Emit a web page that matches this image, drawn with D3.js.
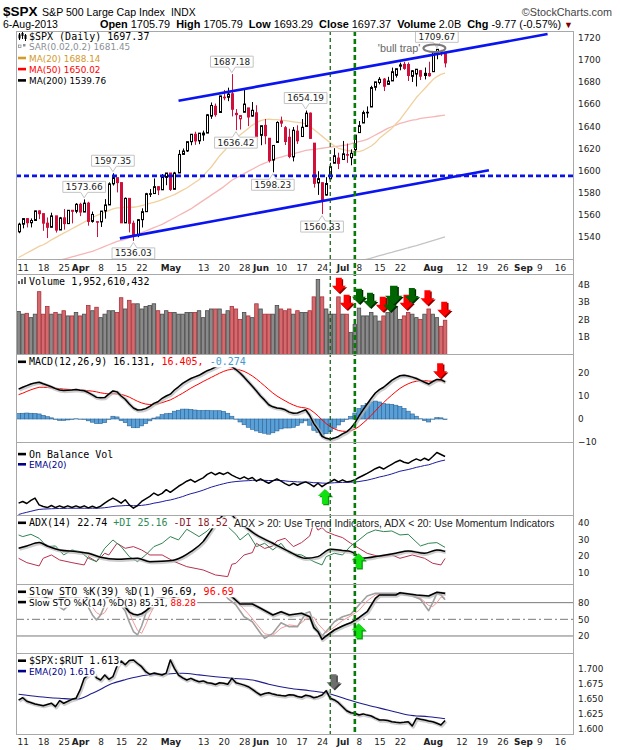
<!DOCTYPE html>
<html><head><meta charset="utf-8">
<script src="https://cdn.jsdelivr.net/npm/d3@7/dist/d3.min.js"></script>
<style>html,body{margin:0;padding:0;background:#fff;}</style>
</head>
<body>
<svg id="chart" width="620" height="750" xmlns="http://www.w3.org/2000/svg"></svg>
<script>
// ================= DATA =================
// trading-day index 0 = 8-Mar-2013 ... 104 = 6-Aug-2013
const prevClose = 1544.26;
const openP = [1544.26,1551.15,1556.22,1552.48,1554.52,1563.21,1560.70,1552.10,1548.34,1558.71,
1545.90,1556.89,1551.69,1563.75,1562.86,1569.18,1562.17,1570.25,1553.69,1553.47,
1553.26,1563.11,1568.61,1587.73,1593.30,1588.84,1552.36,1574.57,1552.03,1541.61,
1555.25,1562.50,1578.78,1578.93,1585.16,1582.34,1593.58,1597.55,1582.77,1597.60,
1614.40,1617.55,1625.95,1632.69,1626.69,1632.10,1633.75,1649.13,1658.07,1652.45,
1665.71,1666.20,1669.39,1651.62,1646.67,1652.63,1656.57,1649.14,1652.13,1631.71,
1640.73,1629.05,1609.29,1625.27,1644.67,1638.64,1629.94,1612.15,1635.52,1630.64,
1639.77,1651.83,1624.62,1588.62,1588.77,1577.52,1592.27,1606.44,1611.12,1609.78,
1614.29,1611.48,1618.65,1634.20,1642.89,1652.50,1657.41,1675.26,1679.59,1682.70,
1677.91,1681.05,1686.15,1694.41,1696.06,1695.95,1685.21,1687.31,1690.32,1687.92,
1687.76,1689.42,1706.10,1708.01,1705.79];
const highP = [1552.48,1556.27,1556.77,1556.39,1563.32,1563.62,1560.70,1557.25,1561.56,1558.71,
1557.74,1564.91,1563.95,1564.07,1570.28,1570.57,1573.66,1571.47,1562.60,1553.47,
1563.07,1573.89,1589.07,1597.35,1593.30,1588.84,1575.35,1574.57,1554.38,1555.89,
1565.55,1579.58,1583.00,1592.64,1585.78,1596.65,1597.57,1597.55,1598.60,1618.46,
1619.77,1626.03,1632.78,1635.01,1633.70,1636.00,1651.10,1661.49,1660.51,1667.47,
1672.84,1674.93,1687.18,1655.50,1649.78,1674.21,1656.57,1661.91,1658.99,1640.42,
1646.53,1629.31,1622.56,1644.40,1648.69,1640.13,1637.71,1639.25,1640.80,1646.50,
1654.19,1652.45,1624.62,1599.19,1588.77,1593.79,1606.83,1620.07,1615.94,1626.61,
1624.26,1618.97,1632.07,1644.68,1654.18,1657.92,1676.63,1680.19,1684.51,1683.73,
1684.75,1693.12,1692.09,1697.61,1698.38,1697.79,1690.94,1691.85,1690.92,1693.19,
1698.43,1707.85,1709.67,1709.24,1705.79];
const lowP = [1542.94,1547.36,1548.24,1548.25,1554.52,1555.74,1545.13,1538.57,1548.34,1543.55,
1545.90,1546.22,1551.69,1551.90,1561.08,1558.47,1562.17,1549.80,1552.53,1539.50,
1548.63,1556.21,1568.61,1586.17,1579.97,1552.28,1552.36,1543.69,1536.03,1539.40,
1548.19,1562.50,1575.80,1578.93,1577.56,1582.34,1586.50,1581.28,1582.77,1597.60,
1614.21,1616.64,1622.70,1623.09,1623.71,1626.74,1633.75,1646.68,1648.60,1652.45,
1663.52,1662.67,1648.86,1636.42,1637.00,1652.63,1640.05,1648.61,1630.74,1622.72,
1623.62,1607.09,1598.23,1625.27,1639.26,1622.92,1610.92,1608.07,1623.96,1630.34,
1639.77,1628.91,1584.32,1577.70,1560.33,1577.09,1592.27,1606.44,1601.06,1609.78,
1606.77,1604.57,1614.71,1634.20,1642.89,1647.66,1657.41,1672.33,1677.89,1671.84,
1677.91,1681.05,1684.08,1690.67,1691.13,1680.97,1680.07,1676.03,1681.86,1682.42,
1684.94,1689.42,1700.68,1703.55,1693.29];
const closeP = [1551.18,1556.22,1552.48,1554.52,1563.23,1560.70,1552.10,1548.34,1558.71,1545.80,
1556.89,1551.69,1563.77,1562.85,1569.19,1562.17,1570.25,1553.69,1559.98,1553.28,
1563.07,1568.61,1587.73,1593.37,1588.85,1552.36,1574.57,1552.01,1541.61,1555.25,
1562.50,1578.78,1578.79,1585.16,1582.24,1593.61,1597.57,1582.70,1597.59,1614.42,
1617.50,1625.96,1632.69,1626.67,1633.70,1633.77,1650.34,1658.78,1650.47,1667.47,
1666.29,1669.16,1655.35,1650.51,1649.60,1660.06,1648.36,1654.41,1630.74,1640.42,
1631.38,1608.90,1622.56,1643.38,1642.81,1626.13,1612.52,1636.36,1626.73,1639.04,
1651.81,1628.93,1588.19,1592.43,1573.09,1588.03,1603.26,1613.20,1606.28,1614.96,
1614.08,1615.41,1631.89,1640.46,1652.32,1652.62,1675.02,1680.19,1682.50,1676.26,
1680.91,1689.37,1692.09,1695.53,1692.39,1685.94,1690.25,1691.65,1685.33,1685.96,
1685.73,1706.87,1709.67,1707.14,1697.37];
const volumeB = [2.45,2.30,2.35,2.10,2.30,3.60,2.30,2.75,2.30,2.40,
2.30,2.50,2.20,2.20,2.40,2.20,2.30,2.80,2.50,2.70,
2.10,2.30,2.50,2.50,2.40,3.25,2.60,3.10,2.90,2.90,
2.60,2.75,2.80,2.90,2.50,2.30,2.50,2.40,2.40,2.30,
2.30,2.40,2.40,2.40,2.50,2.10,2.50,2.60,2.60,2.60,
2.30,2.50,2.75,2.60,2.00,2.40,2.20,2.10,2.90,2.60,
2.30,2.30,2.30,2.80,2.60,2.50,2.60,2.30,2.50,2.40,
2.40,2.50,3.30,4.30,3.30,2.60,2.30,2.30,3.30,2.30,
2.30,1.25,1.70,2.65,2.20,2.20,2.40,2.20,1.90,2.20,
2.40,2.60,2.70,2.00,2.20,2.40,2.30,2.10,2.00,2.30,
2.60,2.30,2.10,1.60,1.95];
const ma20 = [1521,1523,1525,1527,1529,1531,1532.5,1534.5,1537,1539,
1541,1543,1545,1547,1549,1551,1553,1555,1557,1559,
1560.5,1562,1563.5,1565,1566,1566,1566.5,1566.5,1566.5,1567,
1568,1569,1570,1571,1572,1573.5,1575,1576.5,1578,1580,
1582,1584,1586.5,1589,1591.5,1595,1599,1603,1608,1613,
1617,1621,1625,1629,1632,1635,1638,1641,1643,1645,
1646,1646.5,1646,1646,1645.5,1645,1644.5,1644,1643.5,1643,
1642,1640,1637,1634,1631,1628,1625,1622,1620,1619,
1618,1617.5,1617,1617,1618,1620,1622,1625,1629,1632,
1635,1638,1642,1646,1651,1656,1661,1666,1670,1674,
1678,1682,1685,1687,1688.14];
const ma50 = [1506,1507.5,1509,1510.5,1512,1513.5,1514.5,1515.5,1516.5,1517.5,
1518.5,1519.5,1520.5,1521.5,1522.5,1523.5,1524.5,1525.5,1526.5,1528,
1529.5,1531,1532.5,1534,1535.5,1536.5,1537.5,1539,1540.5,1542,
1543.5,1545,1546.5,1548,1549.5,1551,1553,1555,1557,1559,
1561,1563,1565,1567.5,1570,1572.5,1575,1577.5,1580,1582.5,
1585,1588,1591,1593,1595,1597,1599,1601,1603,1605,
1606.5,1608,1609.5,1611,1612,1613,1614,1615,1616,1617,
1618,1618.5,1619,1619.5,1620,1620.5,1621,1621.5,1622,1622.5,
1623,1624,1625,1626,1627,1628,1630,1632,1634,1636,
1638,1639.5,1641,1642.5,1643.5,1644.5,1645.5,1646,1647,1647.5,
1648,1648.5,1649,1649.5,1650.02];
const ma200Start = 84;
const ma200 = [1518.6,1519.5,1520.5,1521.5,1522.6,1523.6,1524.6,1525.6,1526.7,1527.7,1528.7,
1529.8,1530.8,1531.8,1532.9,1534.0,1535.2,1536.3,1537.4,1538.6,1539.76];
const macdLine = [13.0,13.8,14.5,15.2,15.7,16.0,15.3,14.7,14.0,13.2,
12.6,12.4,12.5,12.6,12.8,12.5,12.3,11.5,10.5,9.4,
9.2,9.3,10.8,12.2,11.8,10.0,8.6,6.5,4.8,3.9,
4.0,4.5,5.5,6.8,7.5,9.0,10.0,10.8,12.6,14.0,
15.5,16.6,17.6,18.3,19.0,20.0,21.0,21.7,22.6,23.5,
24.0,23.8,22.8,21.5,20.0,18.2,16.2,14.2,12.2,10.0,
8.2,6.2,5.3,4.8,4.6,4.0,3.0,2.5,2.6,3.3,
4.0,1.5,-2.0,-4.5,-7.5,-8.4,-8.8,-8.3,-7.6,-6.5,
-5.6,-4.0,-1.8,1.3,4.0,6.5,9.0,11.3,12.8,13.8,
15.3,16.8,17.9,18.8,19.0,18.7,18.2,17.6,16.8,16.0,
15.2,16.3,17.2,17.1,16.131];
const macdSignal = [10.6,11.2,12.0,12.7,13.3,13.8,13.8,13.7,13.5,13.4,
13.2,13.0,12.9,12.8,12.7,12.6,12.5,12.3,12.1,11.8,
11.4,11.1,10.9,11.0,10.9,10.7,10.2,9.5,8.6,7.7,
7.0,6.5,6.3,6.4,6.6,7.1,7.7,8.3,9.2,10.2,
11.2,12.3,13.4,14.4,15.3,16.3,17.2,18.1,19.0,19.9,
20.7,21.3,21.6,21.6,21.3,20.7,19.8,18.7,17.4,15.9,
14.4,12.8,11.3,10.0,8.9,7.9,6.9,6.1,5.4,5.0,
4.8,4.2,2.9,1.4,-0.4,-2.0,-3.3,-4.3,-5.0,-5.3,
-5.4,-5.1,-4.4,-3.3,-1.8,-0.2,1.6,3.5,5.4,7.1,
8.8,10.4,11.9,13.3,14.4,15.3,16.0,16.4,16.7,16.7,
16.5,16.4,16.6,16.6,16.405];
const macdHist = [2.4,2.5,2.6,2.5,2.4,2.2,1.6,1.0,0.5,-0.2,
-0.6,-0.6,-0.4,-0.2,0.1,-0.1,-0.2,-0.8,-1.4,-2.0,
-2.0,-1.6,-0.2,1.2,0.9,-0.7,-1.6,-3.0,-3.8,-3.8,
-3.0,-2.0,-0.8,0.4,0.9,1.9,2.3,2.5,3.4,3.8,
4.3,4.3,4.2,3.9,3.7,3.7,3.8,3.6,3.6,3.6,
3.3,2.5,1.2,-0.1,-1.3,-2.5,-3.6,-4.5,-5.2,-5.9,
-6.2,-6.6,-6.0,-5.2,-4.3,-3.9,-3.9,-3.6,-2.8,-1.7,
-0.8,-2.7,-4.9,-5.9,-7.1,-6.4,-5.5,-4.0,-2.6,-1.2,
-0.2,1.1,2.6,4.6,5.8,6.7,7.4,7.8,7.4,6.7,
6.5,6.4,6.0,5.5,4.6,3.4,2.2,1.2,0.1,-0.7,
-1.3,-0.1,0.6,0.5,-0.274];
const obv = [7.0,8.0,6.8,8.6,10.0,6.0,5.0,4.4,5.6,4.4,
5.4,4.4,5.4,4.4,5.4,4.4,5.4,4.2,5.2,4.2,
5.2,7.0,8.6,10.0,8.6,7.0,9.0,6.0,4.0,5.6,
8.0,9.6,11.0,13.0,11.6,12.8,15.0,13.4,15.2,17.0,
18.4,20.0,21.0,19.4,20.8,22.0,24.0,25.2,23.8,25.0,
24.0,25.2,23.6,22.4,21.4,22.6,21.2,22.2,20.0,21.4,
20.0,18.8,20.2,21.4,20.0,18.6,17.4,18.8,17.6,18.8,
19.6,18.4,16.8,18.8,16.8,18.4,19.6,21.0,19.6,20.8,
19.6,20.0,20.8,22.2,23.4,24.6,26.0,27.4,28.4,27.2,
28.6,30.0,31.4,32.4,31.2,30.6,32.0,33.2,32.2,33.6,
32.4,34.6,37.0,35.8,34.6];
const obvEma = [0.3,1.0,1.6,2.2,2.8,3.3,3.5,3.6,3.7,3.8,
3.9,3.9,4.0,4.0,4.0,4.0,4.0,4.0,4.0,4.0,
4.1,4.3,4.6,5.0,5.3,5.4,5.6,5.6,5.5,5.5,
5.7,6.0,6.4,7.0,7.4,7.9,8.5,8.9,9.5,10.2,
10.9,11.8,12.6,13.2,13.9,14.7,15.6,16.5,17.2,17.9,
18.5,19.1,19.5,19.8,20.0,20.2,20.3,20.5,20.5,20.6,
20.5,20.4,20.4,20.5,20.4,20.2,19.9,19.8,19.6,19.5,
19.5,19.4,19.1,19.1,18.9,18.8,18.9,19.1,19.2,19.3,
19.3,19.4,19.5,19.8,20.2,20.6,21.2,21.8,22.5,23.0,
23.6,24.3,25.1,25.9,26.4,26.9,27.5,28.2,28.7,29.3,
29.7,30.5,31.3,32.0,32.5];
// [day index, value] readings
const adx = [[0,24.6],[2,26.0],[5,28.0],[7,26.0],[10,23.6],[14,22.6],[17,21.6],[20,19.2],[24,18.0],[29,18.6],[32,16.6],[35,16.8],[38,17.6],[40,19.5],[42,22.6],[45,28.6],[47,35.6],[49,42.2],[51,46.5],[53,42.0],[55,38.0],[58,32.6],[62,27.6],[66,22.6],[70,18.6],[73,19.6],[76,24.0],[79,23.2],[81,22.6],[84,18.6],[88,20.0],[92,21.6],[95,23.0],[99,21.6],[102,23.6],[104,22.74]];
const plusDI = [[0,32.6],[1,31.6],[3,33.0],[5,30.6],[7,25.6],[9,26.0],[11,20.6],[13,23.6],[15,22.6],[17,18.6],[19,16.6],[21,24.6],[23,29.6],[25,25.6],[27,19.6],[29,16.6],[31,20.6],[33,25.6],[35,27.6],[37,31.6],[39,29.6],[41,36.0],[42,34.6],[44,31.6],[46,35.0],[48,40.0],[49,38.0],[51,37.6],[53,33.0],[54,29.6],[56,33.6],[58,25.6],[60,27.6],[62,23.6],[64,27.6],[66,21.6],[69,20.6],[71,18.0],[72,16.6],[74,14.6],[75,19.6],[77,21.6],[79,20.6],[81,26.0],[83,29.6],[85,33.6],[87,35.6],[89,34.6],[91,35.0],[93,32.6],[95,33.0],[98,26.0],[100,27.6],[102,28.0],[104,25.16]];
const minusDI = [[0,18.6],[2,16.0],[5,14.0],[6,18.6],[8,20.6],[10,17.6],[13,16.0],[16,14.6],[17,19.6],[19,16.6],[21,21.6],[22,20.6],[24,27.6],[26,24.6],[28,25.6],[30,23.6],[32,20.6],[35,20.6],[38,16.6],[41,13.6],[45,11.6],[48,8.6],[51,7.6],[52,15.0],[53,15.6],[55,20.6],[57,22.0],[58,27.6],[60,24.5],[62,26.0],[63,29.0],[65,30.6],[67,25.6],[69,28.0],[71,32.0],[72,40.0],[73,35.5],[74,37.0],[75,34.6],[77,32.6],[79,31.0],[81,27.6],[83,24.6],[85,21.6],[88,19.6],[91,20.6],[93,18.6],[96,20.6],[99,18.6],[101,15.6],[103,14.6],[104,18.52]];
const sto39 = [[0,95],[3,97],[5,96],[7,88],[9,84],[10,88],[12,92],[14,96],[16,95],[17,85],[19,80],[21,86],[23,97],[24,95],[25,80],[26,72],[27,63],[28,59],[29,57.8],[30,60],[31,65],[32,71],[33,78],[35,88],[37,85],[39,95],[42,98],[45,98],[49,99],[51,96],[52,90.7],[54,77.6],[57,77.6],[59,69.8],[62,57.8],[64,63.7],[66,57.8],[69,60.8],[71,54.7],[72,35],[73,27.7],[74,14.0],[75,20.0],[77,30.8],[79,38],[80,41.0],[81,43.9],[83,52.9],[85,63.7],[87,87.8],[88,93.8],[92,93.8],[93,97.9],[97,93.8],[100,92.0],[102,98.6],[104,96.69]];
const sto14K = [[0,95],[3,90],[6,80],[8,85],[10,72],[11,67],[12,74],[14,90],[16,92],[17,72],[18,58],[19,48.8],[20,58],[21,75],[22,90],[23,96],[24,92],[25,75],[26,65],[27,45],[28,28],[29,21.8],[30,38],[31,60],[32,75],[34,90],[37,85],[39,95],[42,97],[46,96],[49,98],[50,96],[51,87.8],[53,75.8],[55,54.7],[57,45.7],[59,24.8],[60,15.8],[62,24.8],[64,43.9],[66,36.7],[68,36.7],[70,60.8],[71,63.7],[72,42.8],[74,20],[76,36.7],[77,45.7],[79,54.7],[81,59],[83,75.8],[85,92],[87,96.8],[92,96.8],[96,92],[98,86],[100,65.5],[101,80],[102,96.8],[103,94],[104,85.31]];
const sto14D = [[0,93],[4,90],[7,84],[10,78],[11,74],[12,72],[13,80],[15,88],[17,82],[18,72],[19,62],[20,57.8],[21,62],[22,75],[23,87],[25,88],[26,78],[27,62],[28,45],[29,30],[30,24.8],[31,40],[32,58],[33,72],[35,85],[38,90],[41,95],[46,97],[50,96],[52,90],[54,76],[56,60],[58,42],[60,24],[62,21],[64,34],[66,40],[68,38],[70,50],[72,54],[73,42],[75,26],[77,36],[79,48],[81,56],[83,66],[85,83],[87,94],[92,96],[96,93],[98,88],[100,75],[101,73],[102,80],[103,90],[104,88.28]];
const spxRut = [[0,1.647],[1,1.651],[2,1.645],[4,1.6405],[6,1.6377],[8,1.6417],[9,1.636],[10,1.646],[11,1.6417],[13,1.6483],[14,1.650],[15,1.664],[16,1.6833],[17,1.689],[18,1.6943],[19,1.684],[20,1.6805],[21,1.6888],[22,1.6817],[23,1.686],[24,1.7038],[25,1.712],[26,1.706],[27,1.713],[28,1.7138],[29,1.708],[30,1.7027],[31,1.6943],[32,1.690],[33,1.692],[34,1.6905],[35,1.6888],[36,1.692],[37,1.7138],[38,1.700],[39,1.6888],[40,1.684],[41,1.6805],[42,1.6833],[43,1.680],[44,1.6777],[45,1.679],[46,1.676],[47,1.675],[48,1.673],[49,1.676],[50,1.675],[51,1.6735],[52,1.6833],[53,1.676],[54,1.674],[55,1.672],[56,1.6693],[57,1.665],[58,1.660],[59,1.6555],[60,1.658],[61,1.6593],[62,1.657],[63,1.6555],[64,1.6545],[65,1.6538],[66,1.656],[67,1.6555],[68,1.653],[69,1.6517],[70,1.655],[71,1.6538],[72,1.651],[73,1.6527],[74,1.6555],[75,1.6627],[76,1.650],[77,1.6472],[78,1.6427],[79,1.636],[80,1.6293],[81,1.626],[82,1.625],[83,1.6222],[84,1.624],[85,1.622],[86,1.6205],[87,1.617],[88,1.6138],[89,1.6138],[90,1.613],[91,1.611],[92,1.610],[93,1.6093],[94,1.610],[95,1.611],[96,1.6038],[97,1.6167],[98,1.615],[99,1.6138],[100,1.612],[101,1.611],[102,1.6083],[103,1.6055],[104,1.613]];
const spxRutEma = [[0,1.6567],[5,1.6527],[10,1.650],[14,1.6483],[18,1.6583],[23,1.675],[26,1.681],[31,1.6885],[36,1.6905],[40,1.6917],[44,1.689],[48,1.686],[52,1.6835],[57,1.6805],[61,1.6735],[66,1.6667],[71,1.6627],[76,1.6572],[80,1.6483],[85,1.6388],[90,1.6305],[95,1.6222],[100,1.6193],[104,1.616]];

// axis ticks
const xTickIdx = [1,6,11,15,20,25,30,37,45,50,55,59,64,69,74,79,83,88,93,101,108,113,118,123,127,132];
const xTickLbl = ['11','18','25','Apr','8','15','22','May','13','20','28','Jun','10','17','24','Jul','8','15','22','Aug','12','19','26','Sep','9','16'];
const priceTicks = [1540,1560,1580,1600,1620,1640,1660,1680,1700,1720];
const volTicks = [1,2,3,4];
const macdTicks = [-10,0,10,20];
const adxTicks = [10,20,30,40];
const stoTicks = [20,50,80];
const rutTicks = [1.600,1.625,1.650,1.675,1.700];

// annotations (data coordinates)
const annIdx = [16,23,28,52,53,62,70,74,102];
const annVal = [1573.66,1597.35,1536.03,1687.18,1636.42,1598.23,1654.19,1560.33,1709.67];
const annSide = ['above','above','below','above','below','below','above','below','above'];
const channelUpper = [[39,1663.0],[129,1723.5]];
const channelLower = [[24.7,1538.3],[114.7,1600.0]];
const supportLevel = 1595;
const markerIdx = [76,82];
const bullTrap = [101.4,1710.7];
const volArrowIdx = [78.1,80.0,83.0,85.7,88.8,90.6,91.5,94.6,95.9,99.7,103.8];
const volArrowTip = [3.53,2.56,2.90,2.67,2.44,2.44,2.86,2.56,2.95,2.82,2.15];
const volArrowKind = ['sell','sell','buy','buy','sell','buy','buy2','sell','buy','sell','sell'];
const macdArrow = [102.8,17.7];
const obvArrow = [74.7,15.4];
const adxArrow = [82.9,21.6];
const stoArrow = [82.9,42.8];
const rutArrow = [76.8,1.665];

// ================= RENDER =================
const MONO = '"DejaVu Sans Mono", monospace';
const SANS = '"DejaVu Sans", Verdana, sans-serif';
const ARIAL = '"Liberation Sans", Arial, sans-serif';
const RED = '#d0103a';
const svg = d3.select('#chart');
const L = 16, R = 573;
const x = d3.scaleLinear().domain([-0.634, 135.2]).range([L, R]);
const PANELS = {main:[31,259], vol:[274,354], macd:[354,442], obv:[442,515], adx:[515,584], sto:[584,653], rut:[653,734]};
const yMain = d3.scaleLinear().domain([1519.6,1726.3]).range([259,31]);
const yVol  = d3.scaleLinear().domain([0,4.62]).range([354,274]);
const yMacd = d3.scaleLinear().domain([-10,28.26]).range([442,354]);
const yObv  = d3.scaleLinear().domain([0,43.2]).range([515,442]);
const yAdx  = d3.scaleLinear().domain([3.18,44.57]).range([584,515]);
const ySto  = d3.scaleLinear().domain([-10.1,113.6]).range([652.7,584]);
const yRut  = d3.scaleLinear().domain([1.5905,1.7255]).range([734,653]);

const defs = svg.append('defs');
Object.entries(PANELS).forEach(([k,[t,b]]) => {
  defs.append('clipPath').attr('id','clip-'+k).append('rect')
    .attr('x',L).attr('y',t).attr('width',R-L).attr('height',b-t);
});
const layer = k => svg.append('g').attr('clip-path',`url(#clip-${k})`);
const lineIdx = (y, start) => d3.line().x((d,i)=>x(i+(start||0))).y(d=>y(d));
const linePairs = (y, curve) => d3.line().x(d=>x(d[0])).y(d=>y(d[1])).curve(curve||d3.curveLinear);
function path(g, datum, gen, stroke, w, extra) {
  const p = g.append('path').datum(datum).attr('d',gen).attr('fill','none')
    .attr('stroke',stroke).attr('stroke-width',w).attr('stroke-linejoin','round');
  if (extra) extra(p);
  return p;
}
function shadowed(g, datum, gen, w) {
  path(g, datum, gen, '#b8b8b8', w+2.2, p=>p.attr('transform','translate(0.8,0.8)').attr('opacity',0.7));
  path(g, datum, gen, '#000', w);
}

// ---------- header ----------
svg.append('text').attr('x',3).attr('y',16).attr('font-family',ARIAL).attr('font-weight','bold').attr('font-size',13.5).text('$SPX');
svg.append('text').attr('x',42).attr('y',16).attr('font-family',ARIAL).attr('font-size',10.6).text('S&P 500 Large Cap Index');
svg.append('text').attr('x',171).attr('y',16).attr('font-family',ARIAL).attr('font-size',10.3).text('INDX');
svg.append('text').attr('x',612).attr('y',15.5).attr('text-anchor','end').attr('font-family',ARIAL).attr('font-size',10.8).attr('fill','#444').text('\u00A9StockCharts.com');
svg.append('text').attr('x',3).attr('y',27.5).attr('font-family',ARIAL).attr('font-size',10.5).text('6-Aug-2013');
{
  const t = svg.append('text').attr('x',R).attr('y',27.5).attr('text-anchor','end').attr('font-family',ARIAL).attr('font-size',10.9).style('white-space','pre');
  const parts = [['Open',1],[' 1705.79  ',0],['High',1],[' 1705.79  ',0],['Low',1],[' 1693.29  ',0],['Close',1],[' 1697.37  ',0],['Volume',1],[' 2.0B  ',0],['Chg',1],[' -9.77 (-0.57%) ',0]];
  parts.forEach(p => t.append('tspan').attr('font-weight',p[1]?'bold':'normal').text(p[0]));
  t.append('tspan').attr('fill','#800000').attr('font-size',9).text('\u25BC');
}

// ---------- main price panel ----------
const gMain = layer('main');
path(gMain, ma200, lineIdx(yMain, ma200Start), '#c4c4c4', 1.3);
path(gMain, ma50, lineIdx(yMain), '#f6b6b6', 1.3);
path(gMain, ma20, lineIdx(yMain), '#f1d09e', 1.3);
closeP.forEach((c,i) => {
  const o = openP[i], pc = i ? closeP[i-1] : prevClose;
  const col = c >= pc ? '#000' : RED;
  const xc = Math.round(x(i));
  gMain.append('line').attr('x1',xc+0.5).attr('x2',xc+0.5).attr('y1',yMain(highP[i])).attr('y2',yMain(lowP[i])).attr('stroke',col).attr('stroke-width',1);
  const yt = yMain(Math.max(o,c)), yb = yMain(Math.min(o,c));
  gMain.append('rect').attr('x',xc-0.5).attr('y',yt).attr('width',2).attr('height',Math.max(0.6,yb-yt))
    .attr('fill', c >= o ? '#fff' : col).attr('stroke',col).attr('stroke-width',1);
});
path(gMain, channelUpper, linePairs(yMain), '#0a14f0', 2.6);
path(gMain, channelLower, linePairs(yMain), '#0a14f0', 2.6);
gMain.append('line').attr('x1',L).attr('x2',R).attr('y1',yMain(supportLevel)).attr('y2',yMain(supportLevel))
  .attr('stroke','#0a14e6').attr('stroke-width',2.6).attr('stroke-dasharray','5,3');

// price callouts
annIdx.forEach((d,k) => {
  const cx = x(d), yp = yMain(annVal[k]);
  const g = svg.append('g');
  const t = g.append('text').attr('font-family',SANS).attr('font-size',8.9).attr('fill','#222').attr('text-anchor','middle').text(annVal[k].toFixed(2));
  const w = t.node().getComputedTextLength() + 6, h = 11;
  let top, bottom, tip, d2;
  if (annSide[k] === 'above') {
    bottom = yp - 7; top = bottom - h; tip = yp - 1.5;
    d2 = `M${cx-w/2},${top} H${cx+w/2} V${bottom} H${cx+3.5} L${cx},${tip} L${cx-3.5},${bottom} H${cx-w/2} Z`;
  } else {
    top = yp + 7; bottom = top + h; tip = yp + 1.5;
    d2 = `M${cx-w/2},${top} H${cx-3.5} L${cx},${tip} L${cx+3.5},${top} H${cx+w/2} V${bottom} H${cx-w/2} Z`;
  }
  g.insert('path','text').attr('d',d2).attr('fill','#fff').attr('stroke','#c4c4c4').attr('stroke-width',1);
  t.attr('x',cx).attr('y',top+8.6);
});
// bull trap
svg.append('ellipse').attr('cx',x(bullTrap[0])).attr('cy',yMain(bullTrap[1])).attr('rx',11).attr('ry',3.8)
  .attr('fill','none').attr('stroke','#7a7a7a').attr('stroke-width',2);
svg.append('text').attr('x',x(bullTrap[0])-14).attr('y',yMain(bullTrap[1])+3.5).attr('text-anchor','end')
  .attr('font-family',ARIAL).attr('font-size',10.8).attr('fill','#666').text("'bull trap'");

// ---------- legend helper ----------
function legendRow(y, parts, font, size, swatch) {
  const g = svg.append('g');
  const bg = g.append('rect').attr('fill','#fff');
  const t = g.append('text').attr('x',29).attr('y',y).attr('font-family',font).attr('font-size',size).style('white-space','pre');
  parts.forEach(p => t.append('tspan').attr('fill',p[1]||'#000').text(p[0]));
  const bb = t.node().getBBox();
  bg.attr('x',17).attr('y',bb.y+0.5).attr('width',bb.x+bb.width-16).attr('height',bb.height-0.5);
  if (swatch) g.append('line').attr('x1',18).attr('x2',26).attr('y1',y-3.5).attr('y2',y-3.5).attr('stroke',swatch).attr('stroke-width',2.6);
  return g;
}

// main legend
{
  const g = legendRow(39.6, [['$SPX (Daily) 1697.37']], MONO, 10);
  [[19,33,40,34.5,38.5,'#000'],[22,32,39,33,36,'#000'],[25,34,41,35,39,'#000']].forEach(c=>{
    g.append('line').attr('x1',c[0]+0.5).attr('x2',c[0]+0.5).attr('y1',c[1]).attr('y2',c[2]).attr('stroke',c[5]);
    g.append('rect').attr('x',c[0]-0.5).attr('y',c[3]).attr('width',2).attr('height',c[4]-c[3]).attr('fill',c[5]);
  });
  const g2 = legendRow(49.9, [['SAR(0.02,0.2) 1681.45','#8a8f95']], SANS, 8.9);
  g2.append('rect').attr('x',18.5).attr('y',45).attr('width',2.5).attr('height',2.5).attr('fill','none').attr('stroke','#8a8f95').attr('stroke-width',0.8);
  g2.append('rect').attr('x',23).attr('y',44).attr('width',2.5).attr('height',2.5).attr('fill','#8a8f95');
  legendRow(61.5, [['MA(20) 1688.14','#d49a2a']], SANS, 8.9, '#d49a2a');
  legendRow(72.6, [['MA(50) 1650.02','#ff0000']], SANS, 8.9, '#ff0000');
  legendRow(83.9, [['MA(200) 1539.76']], SANS, 8.9, '#000');
}

// ---------- volume ----------
const gVol = layer('vol');
volumeB.forEach((v,i) => {
  const down = closeP[i] < (i ? closeP[i-1] : prevClose);
  gVol.append('rect').attr('x',x(i)-1.75).attr('y',yVol(v)).attr('width',3.5).attr('height',yVol(0)-yVol(v)+1)
    .attr('fill',down?'#d46a6e':'#8a8a8a').attr('stroke',down?'#a8323a':'#4a4a4a').attr('stroke-width',0.8);
});
{
  const g = legendRow(285.3, [['Volume 1,952,610,432']], MONO, 10);
  [[18,281,284],[21,279,284],[24,277,284]].forEach(b=>g.append('rect').attr('x',b[0]).attr('y',b[1]).attr('width',2).attr('height',b[2]-b[1]).attr('fill','#666'));
}

// ---------- arrows ----------
function arrow(cx, tipY, dir, fill, shade, s) {
  s = s || 1;
  const hw=7*s, sw=3*s, hh=7*s, sh=8*s;
  const p = (dx,dy)=>`${cx+dx},${tipY+dy*dir}`;
  const d = `M${p(0,0)} L${p(hw,-hh)} L${p(sw,-hh)} L${p(sw,-hh-sh)} L${p(-sw,-hh-sh)} L${p(-sw,-hh)} L${p(-hw,-hh)} Z`;
  svg.append('path').attr('d',d).attr('fill',shade).attr('transform','translate(1.3,1.3)');
  svg.append('path').attr('d',d).attr('fill',fill);
}
const ARROW = {sell:['#ff0000','#8c0000',1], buy:['#006400','#002a00',1], buy2:['#006400','#002a00',1.25]};
volArrowIdx.forEach((d,k) => {
  const a = ARROW[volArrowKind[k]];
  arrow(x(d), yVol(volArrowTip[k]), 1, a[0], a[1], a[2]);
});

// ---------- MACD ----------
const gMacd = layer('macd');
macdHist.forEach((h,i) => {
  const y0 = yMacd(0), y1 = yMacd(h);
  gMacd.append('rect').attr('x',x(i)-2.05).attr('y',Math.min(y0,y1)).attr('width',4.1).attr('height',Math.abs(y1-y0))
    .attr('fill','#5aa0d8').attr('stroke','#2c6496').attr('stroke-width',0.6);
});
path(gMacd, macdSignal, lineIdx(yMacd), '#ff0000', 1);
shadowed(gMacd, macdLine, lineIdx(yMacd), 1.5);
legendRow(365.3, [['MACD(12,26,9) 16.131, '],['16.405, ','#ff0000'],['-0.274','#3c9ad0']], MONO, 10, '#000');
arrow(x(macdArrow[0]), yMacd(macdArrow[1]), 1, '#ff0000', '#8c0000');

// ---------- OBV ----------
const gObv = layer('obv');
path(gObv, obvEma, lineIdx(yObv), '#1c1ca0', 1);
path(gObv, obv, lineIdx(yObv), '#000', 1.5);
legendRow(457.6, [['On Balance Vol']], MONO, 10, '#000');
legendRow(467.8, [['EMA(20)','#00008b']], SANS, 8.9, '#00008b');
arrow(x(obvArrow[0]), yObv(obvArrow[1]), -1, '#11e011', '#0a9a0a');

// ---------- ADX ----------
const gAdx = layer('adx');
path(gAdx, minusDI, linePairs(yAdx), '#b8304e', 1);
path(gAdx, plusDI, linePairs(yAdx), '#2f8450', 1);
shadowed(gAdx, adx, linePairs(yAdx, d3.curveMonotoneX), 1.5);
legendRow(526.3, [['ADX(14) 22.74 '],['+DI 25.16 ','#2e8b57'],['-DI 18.52','#8b1a2e']], MONO, 10, '#000');
{
  const g = svg.append('g');
  const bg = g.append('rect').attr('fill','#fff');
  const t = g.append('text').attr('x',234).attr('y',526.5).attr('font-family',ARIAL).attr('font-size',10.3).attr('fill','#222')
    .text('ADX > 20: Use Trend Indicators, ADX < 20: Use Momentum Indicators');
  const bb = t.node().getBBox();
  bg.attr('x',bb.x).attr('y',bb.y+1).attr('width',bb.width).attr('height',bb.height-2);
}
arrow(x(adxArrow[0]), yAdx(adxArrow[1]), -1, '#11e011', '#0a9a0a');

// ---------- Slow STO ----------
const gSto = layer('sto');
[80,20].forEach(v => gSto.append('line').attr('x1',L).attr('x2',R).attr('y1',ySto(v)).attr('y2',ySto(v)).attr('stroke','#7a7a7a').attr('stroke-width',1));
gSto.append('line').attr('x1',L).attr('x2',R).attr('y1',ySto(50)).attr('y2',ySto(50)).attr('stroke','#7a7a7a').attr('stroke-width',1).attr('stroke-dasharray','8,3,2,3');
path(gSto, sto14D, linePairs(ySto), '#f29a9a', 1);
path(gSto, sto14K, linePairs(ySto), '#a0a0a0', 1.6);
shadowed(gSto, sto39, linePairs(ySto), 1.6);
legendRow(595.3, [['Slow STO %K(39) %D(1) 96.69, '],['96.69','#ff0000']], MONO, 10, '#000');
legendRow(605.6, [['Slow STO %K(14) %D(3) 85.31, '],['88.28','#ff0000']], SANS, 8.9, '#000');
arrow(x(stoArrow[0]), ySto(stoArrow[1]), -1, '#11e011', '#0a9a0a');

// ---------- $SPX:$RUT ----------
const gRut = layer('rut');
path(gRut, spxRutEma, linePairs(yRut, d3.curveMonotoneX), '#1c1c8c', 1.1);
shadowed(gRut, spxRut, linePairs(yRut), 1.5);
legendRow(664.2, [['$SPX:$RUT 1.613']], MONO, 10, '#000');
legendRow(674.6, [['EMA(20) 1.616','#00008b']], SANS, 8.9, '#00008b');
arrow(x(rutArrow[0]), yRut(rutArrow[1]), 1, '#6e6e6e', '#3a3a3a');

// ---------- vertical event markers ----------
svg.append('line').attr('x1',x(markerIdx[0])).attr('x2',x(markerIdx[0])).attr('y1',31).attr('y2',734)
  .attr('stroke','#0a5a0a').attr('stroke-width',1.2).attr('stroke-dasharray','4,3');
svg.append('line').attr('x1',x(markerIdx[1])).attr('x2',x(markerIdx[1])).attr('y1',31).attr('y2',734)
  .attr('stroke','#0a7a0a').attr('stroke-width',2.6).attr('stroke-dasharray','5,3');

// ---------- axes ----------
function yAxis(scale, ticks, fmt) {
  const g = svg.append('g').attr('transform',`translate(${R},0)`)
    .call(d3.axisRight(scale).tickValues(ticks).tickFormat(fmt).tickSize(0).tickPadding(5));
  g.select('.domain').remove();
  g.attr('font-family',SANS).attr('font-size',8.9);
  g.selectAll('text').attr('fill','#222');
}
yAxis(yMain, priceTicks, d3.format('d'));
yAxis(yVol, volTicks, d=>d+'B');
yAxis(yMacd, macdTicks, d3.format('d'));
yAxis(yAdx, adxTicks, d3.format('d'));
yAxis(ySto, stoTicks, d3.format('d'));
yAxis(yRut, rutTicks, d3.format('.3f'));
function xAxis(ty) {
  const g = svg.append('g').attr('transform',`translate(0,${ty})`)
    .call(d3.axisBottom(x).tickValues(xTickIdx).tickFormat((d,k)=>xTickLbl[k]).tickSize(0).tickPadding(0));
  g.select('.domain').remove();
  g.attr('font-family',SANS).attr('font-size',8.9);
  g.selectAll('text').attr('fill','#222').attr('font-weight',(d,k)=>/^[A-Z]/.test(xTickLbl[k])?'bold':'normal');
}
xAxis(264.6);
xAxis(738.6);

// ---------- panel frames ----------
const frame = svg.append('g').attr('fill','none').attr('stroke','#a8a8a8').attr('stroke-width',1).attr('shape-rendering','crispEdges');
Object.values(PANELS).forEach(([t,b]) => frame.append('rect').attr('x',L).attr('y',t).attr('width',R-L).attr('height',b-t));
frame.append('line').attr('x1',L).attr('x2',L).attr('y1',259).attr('y2',274);
frame.append('line').attr('x1',R).attr('x2',R).attr('y1',259).attr('y2',274);
</script>
</body></html>
